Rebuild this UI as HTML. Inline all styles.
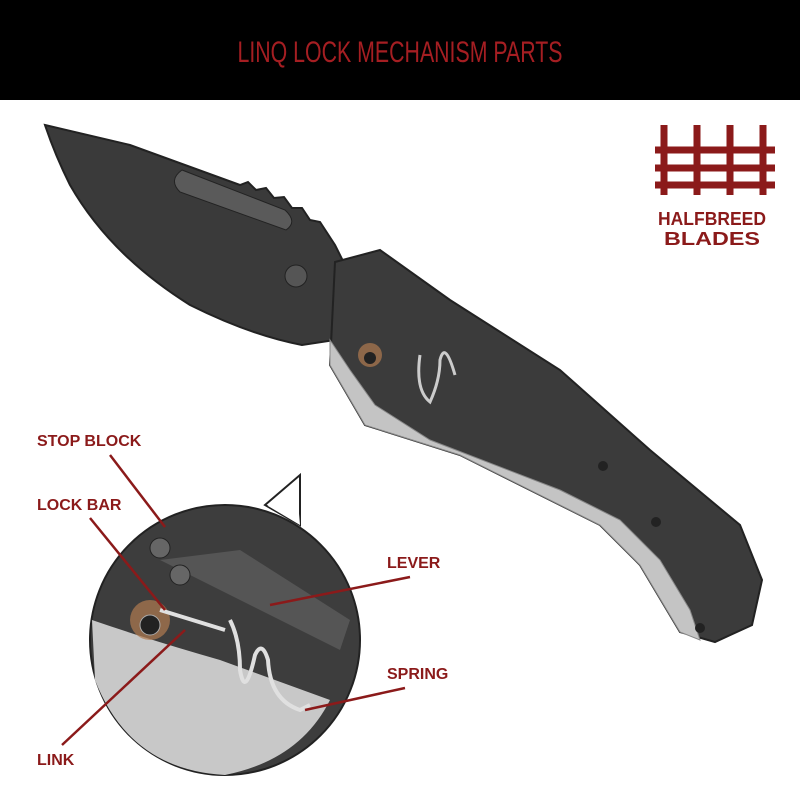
<!DOCTYPE html>
<html><head><meta charset="utf-8"><style>
html,body{margin:0;padding:0;background:#fff}
svg{display:block}
text{font-family:"Liberation Sans",sans-serif;font-weight:bold}
</style></head><body>
<svg width="800" height="800" viewBox="0 0 800 800" xmlns="http://www.w3.org/2000/svg">
<rect x="0" y="0" width="800" height="100" fill="#000"/>
<text x="400" y="62" text-anchor="middle" font-size="30" fill="#a51e22" style="font-weight:normal" textLength="325" lengthAdjust="spacingAndGlyphs">LINQ LOCK MECHANISM PARTS</text>

<g stroke="#8b1a1a" stroke-width="7" fill="none">
<line x1="664" y1="125" x2="664" y2="195"/><line x1="697" y1="125" x2="697" y2="195"/>
<line x1="730" y1="125" x2="730" y2="195"/><line x1="763" y1="125" x2="763" y2="195"/>
<line x1="655" y1="150" x2="775" y2="150"/><line x1="655" y1="168" x2="775" y2="168"/><line x1="655" y1="185" x2="775" y2="185"/>
</g>
<text x="712" y="225" text-anchor="middle" font-size="18" fill="#8b1a1a" textLength="108" lengthAdjust="spacingAndGlyphs">HALFBREED</text>
<text x="712" y="245" text-anchor="middle" font-size="18" fill="#8b1a1a" textLength="96" lengthAdjust="spacingAndGlyphs">BLADES</text>

<!-- blade -->
<path d="M45,125 L130,145 L240,185 L248,182 L256,190 L266,188 L274,198 L284,197 L292,208 L302,208 L310,220 L320,222 L335,245 L355,285 L335,340 L302,345 Q250,335 190,305 Q110,255 70,185 Q55,155 45,125 Z" fill="#3a3a3a" stroke="#222" stroke-width="2"/>
<path d="M182,170 L285,210 Q298,222 286,230 L180,192 Q168,180 182,170Z" fill="#5a5a5a" stroke="#222"/>
<circle cx="296" cy="276" r="11" fill="#555" stroke="#222"/>
<!-- handle -->
<path d="M335,262 L380,250 L450,300 L560,370 L650,450 L740,525 L762,580 L752,625 L715,642 L680,632 L640,565 L600,525 L460,455 L365,425 L330,365 Z" fill="#3b3b3b" stroke="#222" stroke-width="2"/>
<path d="M330,340 L330,365 L365,425 L460,455 L600,525 L640,565 L680,632 L700,640 L690,610 L660,560 L620,520 L560,490 L430,440 L375,405 L350,370Z" fill="#c4c4c4" stroke="#888"/>
<path d="M420,355 Q415,390 430,402 Q440,380 440,360 Q445,340 455,375" fill="none" stroke="#ccc" stroke-width="3"/>
<circle cx="370" cy="355" r="12" fill="#b07a50" opacity=".7"/>
<circle cx="370" cy="358" r="6" fill="#222"/>
<circle cx="603" cy="466" r="5" fill="#222"/><circle cx="656" cy="522" r="5" fill="#222"/><circle cx="700" cy="628" r="5" fill="#222"/>

<!-- inset circle -->
<path d="M265,505 L300,475 L300,525 Z" fill="#fff" stroke="#222" stroke-width="2"/>
<circle cx="225" cy="640" r="135" fill="#3d3d3d" stroke="#222" stroke-width="2"/>
<path d="M92,620 Q150,640 220,660 L330,700 Q300,760 225,775 Q130,770 95,680Z" fill="#c8c8c8"/>
<path d="M160,560 L240,550 L350,620 L340,650 L240,600Z" fill="#555"/>
<path d="M300,525 L296,480 L268,506 Z" fill="#fff"/>
<circle cx="160" cy="548" r="10" fill="#666" stroke="#222"/><circle cx="180" cy="575" r="10" fill="#666" stroke="#222"/>
<circle cx="150" cy="620" r="20" fill="#b07a50" opacity=".7"/>
<circle cx="150" cy="625" r="10" fill="#222" stroke="#aaa"/>
<path d="M160,610 L225,630 M230,620 Q240,640 240,670 Q245,700 255,655 Q262,640 268,660 Q270,700 300,710 L310,705" fill="none" stroke="#e0e0e0" stroke-width="4"/>

<g fill="#fff" stroke="#fff" stroke-width="5">
<text x="37" y="446" font-size="16">STOP BLOCK</text>
<text x="37" y="510" font-size="16">LOCK BAR</text>
<text x="387" y="568" font-size="16">LEVER</text>
<text x="387" y="679" font-size="16">SPRING</text>
<text x="37" y="765" font-size="16">LINK</text>
</g>
<g fill="#8b1a1a">
<text x="37" y="446" font-size="16">STOP BLOCK</text>
<text x="37" y="510" font-size="16">LOCK BAR</text>
<text x="387" y="568" font-size="16">LEVER</text>
<text x="387" y="679" font-size="16">SPRING</text>
<text x="37" y="765" font-size="16">LINK</text>
</g>
<g stroke="#8b1a1a" stroke-width="2.5">
<line x1="110" y1="455" x2="165" y2="527"/>
<line x1="90" y1="518" x2="165" y2="610"/>
<line x1="410" y1="577" x2="270" y2="605"/>
<line x1="405" y1="688" x2="305" y2="710"/>
<line x1="62" y1="745" x2="185" y2="630"/>
</g>
</svg>
</body></html>
